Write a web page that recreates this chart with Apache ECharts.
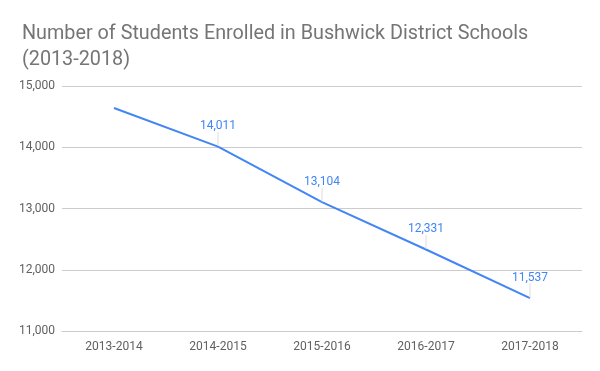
<!DOCTYPE html>
<html><head><meta charset="utf-8">
<script src="https://cdn.jsdelivr.net/npm/echarts@6/dist/echarts.min.js"></script>
<style>html,body{margin:0;padding:0;background:#fff}#c{width:600px;height:371px}</style>
</head><body><div id="c"></div>
<script>
const categories = ['2013-2014','2014-2015','2015-2016','2016-2017','2017-2018'];
const students = [14640, 14011, 13104, 12331, 11537];
const showLabel = [false, true, true, true, true];
const yTicks = [11000, 12000, 13000, 14000, 15000];

const chart = echarts.init(document.getElementById('c'));
chart.setOption({
  backgroundColor: '#fff',
  animation: false,
  title: {
    text: 'Number of Students Enrolled in Bushwick District Schools\n(2013-2018)',
    left: 17, top: 16,
    textStyle: {fontFamily: 'Roboto', fontSize: 19.8, fontWeight: 'normal', color: '#757575', lineHeight: 26}
  },
  grid: {left: 62, right: 18, top: 86, bottom: 40},
  xAxis: {
    type: 'category', data: categories, boundaryGap: true,
    axisLine: {show: true, lineStyle: {color: '#cccccc'}},
    axisTick: {show: false},
    axisLabel: {fontFamily: 'Roboto', fontSize: 12, color: '#616161', margin: 10}
  },
  yAxis: {
    type: 'value', min: yTicks[0], max: yTicks[yTicks.length-1], interval: 1000,
    axisLine: {show: false}, axisTick: {show: false},
    splitLine: {lineStyle: {color: '#cccccc'}},
    axisLabel: {fontFamily: 'Roboto', fontSize: 12, color: '#616161', margin: 7,
      formatter: v => v.toLocaleString('en-US')}
  },
  series: [{
    type: 'line',
    data: students.map((v, i) => ({value: v, label: {show: showLabel[i]}, labelLine: {show: showLabel[i]}})),
    symbol: 'circle', symbolSize: 1, showSymbol: true,
    lineStyle: {color: '#4285f4', width: 2},
    itemStyle: {color: 'rgba(0,0,0,0)', borderWidth: 0},
    label: {
      show: true, position: 'top', distance: 0,
      fontFamily: 'Roboto', fontSize: 12, color: '#4285f4',
      formatter: p => p.value.toLocaleString('en-US')
    },
    labelLayout: {dy: -14},
    labelLine: {show: true, lineStyle: {color: '#dddddd', width: 1}}
  }]
});
</script></body></html>
